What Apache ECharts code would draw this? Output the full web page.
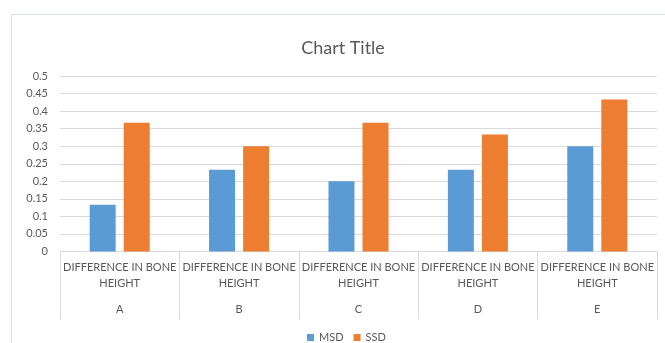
<!DOCTYPE html>
<html>
<head>
<meta charset="utf-8">
<script src="https://cdn.jsdelivr.net/npm/echarts@6/dist/echarts.min.js"></script>
<style>
html,body{margin:0;padding:0;background:#fff;}
#c{width:665px;height:343px;}
</style>
</head>
<body>
<div id="c"></div>
<script>
var categories = ['DIFFERENCE IN BONE HEIGHT','DIFFERENCE IN BONE HEIGHT','DIFFERENCE IN BONE HEIGHT','DIFFERENCE IN BONE HEIGHT','DIFFERENCE IN BONE HEIGHT'];
var groups = ['A','B','C','D','E'];
var msd = [0.133, 0.233, 0.2, 0.233, 0.3];
var ssd = [0.367, 0.3, 0.367, 0.333, 0.433];
var seriesNames = ['MSD','SSD'];
var yMin = 0, yMax = 0.5, yStep = 0.05;

var FONT = 'Lato';
var TXT = '#595959';
var chart = echarts.init(document.getElementById('c'));
chart.setOption({
  animation: false,
  textStyle: {fontFamily: FONT},
  graphic: [{
    type: 'rect', left: 9, top: 12, shape: {width: 700, height: 400},
    style: {fill: 'none', stroke: '#D5E3E6', lineWidth: 1}, silent: true, z: -1
  }],
  title: {
    text: 'Chart Title', left: 338, top: 34, textAlign: 'center',
    textStyle: {fontFamily: FONT, fontSize: 18, fontWeight: 'normal', color: TXT}
  },
  legend: {
    data: seriesNames, left: 302, top: 327, itemWidth: 7, itemHeight: 7, itemGap: 10,
    icon: 'rect', textStyle: {fontFamily: FONT, fontSize: 11, color: TXT}
  },
  grid: {left: 60, right: 8, top: 76, bottom: 91.5},
  xAxis: [{
    type: 'category', data: groups,
    axisLine: {lineStyle: {color: '#D9D9D9'}},
    axisTick: {show: true, length: 68, lineStyle: {color: '#D9D9D9'}},
    axisLabel: {
      interval: 0, margin: 8, lineHeight: 16, fontFamily: FONT, fontSize: 11, color: TXT,
      formatter: function(v, i){ var c = categories[i]; var k = c.lastIndexOf(' '); return c.slice(0,k) + '\n' + c.slice(k+1); }
    }
  },{
    type: 'category', data: groups, position: 'bottom',
    axisLine: {show: false}, axisTick: {show: false},
    axisLabel: {interval: 0, margin: 52, fontFamily: FONT, fontSize: 11, color: TXT}
  }],
  yAxis: {
    type: 'value', min: yMin, max: yMax, interval: yStep,
    axisLine: {show: false}, axisTick: {show: false},
    splitLine: {lineStyle: {color: '#D9D9D9'}},
    axisLabel: {margin: 12, fontFamily: FONT, fontSize: 11, color: TXT,
      formatter: function(v){ return String(+v.toFixed(2)); }}
  },
  series: [
    {name: seriesNames[0], type: 'bar', data: msd, barWidth: 26, barGap: '31%', itemStyle: {color: '#5B9BD5'}},
    {name: seriesNames[1], type: 'bar', data: ssd, barWidth: 26, barGap: '31%', itemStyle: {color: '#ED7D31'}}
  ]
});
</script>
</body>
</html>
